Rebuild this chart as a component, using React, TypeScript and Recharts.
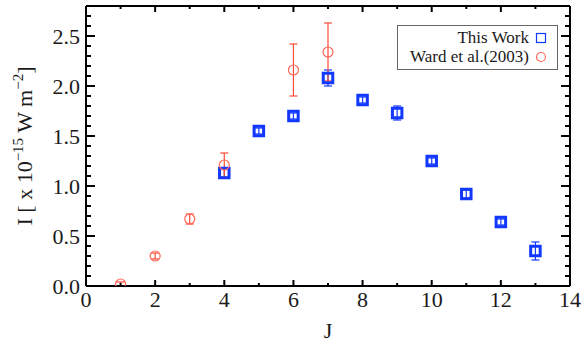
import { ScatterChart, Scatter, XAxis, YAxis, ErrorBar, Legend } from 'recharts'

// Ward et al. (2003)
const wardJ = [1, 2, 3, 4, 6, 7]
const wardI = [0.02, 0.3, 0.67, 1.21, 2.16, 2.34]
const wardErr = [0.02, 0.03, 0.05, 0.12, 0.26, 0.29]

// This Work
const workJ = [4, 5, 6, 7, 8, 9, 10, 11, 12, 13]
const workI = [1.13, 1.55, 1.7, 2.08, 1.86, 1.73, 1.25, 0.92, 0.64, 0.35]
const workErr = [0.05, 0.03, 0.03, 0.08, 0.03, 0.07, 0.03, 0.04, 0.03, 0.09]

const xTicks = [0, 1, 2, 3, 4, 5, 6, 7, 8, 9, 10, 11, 12, 13, 14]
const yTicks = [
  0, 0.1, 0.2, 0.3, 0.4, 0.5, 0.6, 0.7, 0.8, 0.9, 1.0, 1.1, 1.2, 1.3, 1.4, 1.5,
  1.6, 1.7, 1.8, 1.9, 2.0, 2.1, 2.2, 2.3, 2.4, 2.5, 2.6, 2.7, 2.8,
]

const legendNames = ['This Work', 'Ward et al.(2003)']

const BLUE = '#1238ff'
const RED = '#ff4a36'
const FONT = '"Times New Roman", "Liberation Serif", serif'

const workRows = workJ.map((j, i) => ({ j, v: workI[i], e: workErr[i] }))
const wardRows = wardJ.map((j, i) => ({ j, v: wardI[i], e: wardErr[i] }))

const isMajorY = (v: number) => Math.round(v * 10) % 5 === 0

// 目盛りは内向き（IDL風）。ラベルは主目盛りのみ
const BottomTick = (props: any) => {
  const { x, y, payload } = props
  const v = payload.value
  const major = v % 2 === 0
  return (
    <g>
      <line x1={x} y1={y} x2={x} y2={y - (major ? 6 : 3)} stroke="#000" strokeWidth={2} />
      {major && (
        <text x={x} y={y + 21} textAnchor="middle" style={{ fontFamily: FONT }} fontSize={22} fill="#1a1a1a">
          {v}
        </text>
      )}
    </g>
  )
}

const TopTick = (props: any) => {
  const { x, y, payload } = props
  const major = payload.value % 2 === 0
  return <line x1={x} y1={y} x2={x} y2={y + (major ? 6 : 3)} stroke="#000" strokeWidth={2} />
}

const LeftTick = (props: any) => {
  const { x, y, payload } = props
  const v = payload.value
  const major = isMajorY(v)
  return (
    <g>
      <line x1={x} y1={y} x2={x + (major ? 9 : 5)} y2={y} stroke="#000" strokeWidth={2} />
      {major && (
        <text x={x - 6} y={y + 8} textAnchor="end" style={{ fontFamily: FONT }} fontSize={22} fill="#1a1a1a">
          {v.toFixed(1)}
        </text>
      )}
    </g>
  )
}

const RightTick = (props: any) => {
  const { x, y, payload } = props
  const major = isMajorY(payload.value)
  return <line x1={x} y1={y} x2={x - (major ? 9 : 5)} y2={y} stroke="#000" strokeWidth={2} />
}

const SquareShape = (props: any) => {
  const { cx, cy } = props
  return (
    <rect x={cx - 4.75} y={cy - 4.75} width={9.5} height={9.5} fill="none" stroke={BLUE} strokeWidth={3} />
  )
}

const CircleShape = (props: any) => {
  const { cx, cy } = props
  return <circle cx={cx} cy={cy} r={5} fill="none" stroke="#ff6a5c" strokeWidth={1.2} />
}

const YTitle = (props: any) => {
  const vb = props.viewBox
  const cy = vb.y + vb.height / 2
  const cx = 32
  return (
    <text
      x={cx}
      y={cy}
      textAnchor="middle"
      transform={`rotate(-90, ${cx}, ${cy})`}
      style={{ fontFamily: FONT }}
      fontSize={22}
      fill="#1a1a1a"
    >
      I [ x 10
      <tspan dy={-9} fontSize={15}>−15</tspan>
      <tspan dy={9}> W m</tspan>
      <tspan dy={-9} fontSize={15}>−2</tspan>
      <tspan dy={9}>]</tspan>
    </text>
  )
}

const XTitle = (props: any) => {
  const vb = props.viewBox
  return (
    <text x={vb.x + vb.width / 2} y={338} textAnchor="middle" style={{ fontFamily: FONT }} fontSize={22} fill="#1a1a1a">
      J
    </text>
  )
}

const LegendBox = () => (
  <div
    style={{
      border: '1px solid #666',
      background: '#fff',
      width: 161,
      height: 45,
      boxSizing: 'border-box',
      fontFamily: FONT,
      fontSize: 17,
      color: '#1a1a1a',
      paddingTop: 2,
    }}
  >
    {legendNames.map((name, i) => (
      <div
        key={name}
        style={{
          display: 'flex',
          justifyContent: 'flex-end',
          alignItems: 'center',
          height: 19,
          lineHeight: '19px',
          paddingRight: 10,
        }}
      >
        <span>{name}</span>
        <svg width={12} height={12} style={{ marginLeft: 6 }}>
          {i === 0 ? (
            <rect x={1.5} y={1.5} width={9} height={9} fill="none" stroke={BLUE} strokeWidth={1.2} />
          ) : (
            <circle cx={6} cy={6} r={4.5} fill="none" stroke="#ff6a5c" strokeWidth={1.2} />
          )}
        </svg>
      </div>
    ))}
  </div>
)

export default function App() {
  return (
    <div style={{ position: 'absolute', left: 0, top: 0, background: '#fff' }}>
      <ScatterChart width={585} height={345} margin={{ top: 0, right: 0, bottom: 0, left: 0 }}>
        <XAxis
          xAxisId="b"
          type="number"
          dataKey="j"
          domain={[0, 14]}
          ticks={xTicks}
          interval={0}
          height={59}
          tickSize={0}
          tickMargin={0}
          tickLine={false}
          tick={BottomTick}
          axisLine={{ stroke: '#000', strokeWidth: 2 }}
          allowDataOverflow
          label={{ content: XTitle }}
        />
        <XAxis
          xAxisId="t"
          orientation="top"
          type="number"
          dataKey="j"
          domain={[0, 14]}
          ticks={xTicks}
          interval={0}
          height={6}
          tickSize={0}
          tickMargin={0}
          tickLine={false}
          tick={TopTick}
          axisLine={{ stroke: '#000', strokeWidth: 2 }}
          allowDataOverflow
        />
        <YAxis
          yAxisId="l"
          type="number"
          dataKey="v"
          domain={[0, 2.8]}
          ticks={yTicks}
          interval={0}
          width={86}
          tickSize={0}
          tickMargin={0}
          tickLine={false}
          tick={LeftTick}
          axisLine={{ stroke: '#000', strokeWidth: 2 }}
          allowDataOverflow
          label={{ content: YTitle }}
        />
        <YAxis
          yAxisId="r"
          orientation="right"
          type="number"
          dataKey="v"
          domain={[0, 2.8]}
          ticks={yTicks}
          interval={0}
          width={15}
          tickSize={0}
          tickMargin={0}
          tickLine={false}
          tick={RightTick}
          axisLine={{ stroke: '#000', strokeWidth: 2 }}
          allowDataOverflow
        />
        <Legend
          layout="horizontal"
          verticalAlign="middle"
          align="center"
          content={LegendBox}
          wrapperStyle={{ position: 'absolute', top: 25, left: 397, width: 161 }}
        />
        <Scatter
          name="This Work"
          data={workRows}
          xAxisId="b"
          yAxisId="l"
          shape={SquareShape}
          isAnimationActive={false}
        >
          <ErrorBar dataKey="e" direction="y" width={4} stroke={BLUE} strokeWidth={1.2} isAnimationActive={false} />
        </Scatter>
        <Scatter
          name="Ward et al.(2003)"
          data={wardRows}
          xAxisId="b"
          yAxisId="l"
          shape={CircleShape}
          isAnimationActive={false}
        >
          <ErrorBar dataKey="e" direction="y" width={4} stroke={RED} strokeWidth={1.2} isAnimationActive={false} />
        </Scatter>
      </ScatterChart>
    </div>
  )
}
